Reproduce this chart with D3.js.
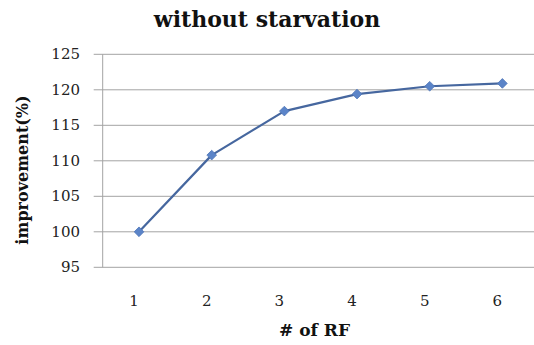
<!DOCTYPE html>
<html>
<head>
<meta charset="utf-8">
<script src="https://cdn.jsdelivr.net/npm/d3@7"></script>
<style>
  html, body { margin: 0; padding: 0; background: #fff; }
  svg { display: block; }
</style>
</head>
<body>
<svg id="chart" width="534" height="345"></svg>
<script>
// Improvement (%) by number of RF, without starvation
const categories = [1, 2, 3, 4, 5, 6];
const improvement = [100, 110.8, 117.0, 119.4, 120.5, 120.9];
const yTicks = [95, 100, 105, 110, 115, 120, 125];

const title = "without starvation";
const xTitle = "# of RF";
const yTitle = "improvement(%)";

const width = 534, height = 345;
const margin = { top: 54.3, right: -4.7, bottom: 77.7, left: 102.7 };
const serif = "'DejaVu Serif', 'Liberation Serif', serif";

const svg = d3.select("#chart");

const x = d3.scaleBand()
  .domain(categories)
  .range([margin.left, width - margin.right])
  .paddingInner(0).paddingOuter(0);

const y = d3.scaleLinear()
  .domain([95, 125])
  .range([height - margin.bottom, margin.top]);

// horizontal gridlines with short ticks to the left of the axis
svg.append("g").selectAll("line")
  .data(yTicks)
  .join("line")
  .attr("x1", margin.left - 9)
  .attr("x2", width)
  .attr("y1", d => y(d))
  .attr("y2", d => y(d))
  .attr("stroke", "#a3a3a3")
  .attr("stroke-width", 1);

// vertical axis line
svg.append("line")
  .attr("x1", margin.left).attr("x2", margin.left)
  .attr("y1", y(125)).attr("y2", y(95))
  .attr("stroke", "#a3a3a3")
  .attr("stroke-width", 1);

// y tick labels
svg.append("g").selectAll("text")
  .data(yTicks)
  .join("text")
  .attr("x", 80)
  .attr("y", d => y(d))
  .attr("dy", "0.33em")
  .attr("text-anchor", "end")
  .attr("font-family", serif)
  .attr("font-size", 15)
  .attr("fill", "#222")
  .text(d => d);

// x tick labels
svg.append("g").selectAll("text")
  .data(categories)
  .join("text")
  .attr("x", d => x(d) + x.bandwidth() / 2 - 5)
  .attr("y", 306)
  .attr("text-anchor", "middle")
  .attr("font-family", serif)
  .attr("font-size", 15)
  .attr("fill", "#222")
  .text(d => d);

// series line
const line = d3.line()
  .x((d, i) => x(categories[i]) + x.bandwidth() / 2)
  .y(d => y(d));

svg.append("path")
  .datum(improvement)
  .attr("d", line)
  .attr("fill", "none")
  .attr("stroke", "#46679f")
  .attr("stroke-width", 2.2)
  .attr("stroke-linejoin", "round");

// diamond markers
const diamond = d3.symbol().type(d3.symbolDiamond2).size(60);
svg.append("g").selectAll("path")
  .data(improvement)
  .join("path")
  .attr("transform", (d, i) => `translate(${x(categories[i]) + x.bandwidth() / 2},${y(d)})`)
  .attr("d", diamond)
  .attr("fill", "#5b84c8")
  .attr("stroke", "#4f76b8")
  .attr("stroke-width", 0.8);

// titles
svg.append("text")
  .attr("x", 267)
  .attr("y", 27)
  .attr("text-anchor", "middle")
  .attr("font-family", serif)
  .attr("font-weight", "bold")
  .attr("font-size", 22)
  .attr("fill", "#111")
  .text(title);

svg.append("text")
  .attr("x", 314.5)
  .attr("y", 336)
  .attr("text-anchor", "middle")
  .attr("font-family", serif)
  .attr("font-weight", "bold")
  .attr("font-size", 17)
  .attr("fill", "#111")
  .text(xTitle);

svg.append("text")
  .attr("transform", "translate(28,170) rotate(-90)")
  .attr("text-anchor", "middle")
  .attr("font-family", serif)
  .attr("font-weight", "bold")
  .attr("font-size", 16)
  .attr("fill", "#111")
  .text(yTitle);
</script>
</body>
</html>
